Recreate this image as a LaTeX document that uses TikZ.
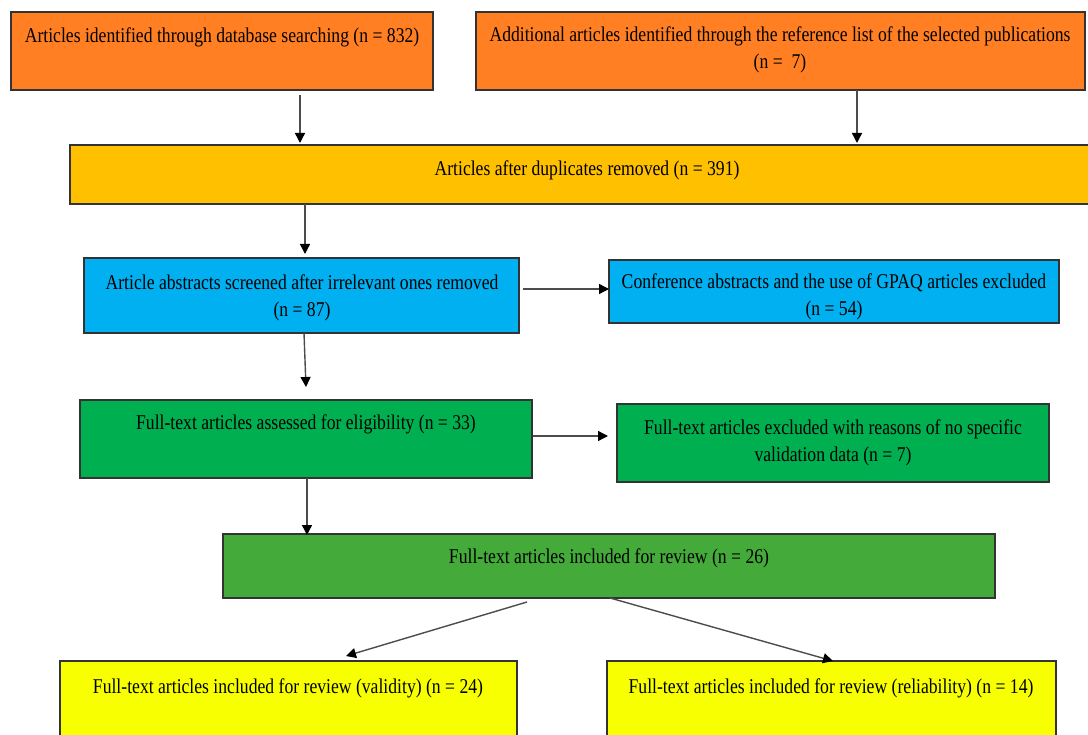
\documentclass[tikz,border=0pt]{standalone}
\usepackage{fontspec}
\setmainfont{Liberation Serif}[FakeStretch=0.84]
\usetikzlibrary{arrows.meta,calc}
\definecolor{corange}{HTML}{FF7F22}
\definecolor{cgold}{HTML}{FFC000}
\definecolor{cblue}{HTML}{00B0F0}
\definecolor{cgreen}{HTML}{00B050}
\definecolor{cgreenb}{HTML}{44AB3A}
\definecolor{cyellow}{HTML}{F7FF00}
\definecolor{cline}{HTML}{333333}
\tikzset{
  box/.style={draw=cline, line width=1.3pt, anchor=north west, inner sep=0pt, outer sep=0pt},
  txt/.style={font=\fontsize{21}{27}\selectfont, align=center, inner sep=0pt, text=black},
  arr/.style={draw=black!70, line width=1.4pt, -{Triangle[width=10pt,length=10pt,fill=black,color=black]}}
}
\begin{document}
\begin{tikzpicture}[x=1pt,y=-1pt]
\useasboundingbox (0,0) rectangle (1088,735);
% boxes
\node[box, fill=corange, minimum width=422pt, minimum height=78pt] (b1) at (11,12) {};
\node[box, fill=corange, minimum width=609pt, minimum height=78pt] (b2) at (476,12) {};
\node[box, fill=cgold, minimum width=1034pt, minimum height=59pt] (b3) at (70,145) {};
\node[box, fill=cblue, minimum width=435pt, minimum height=75pt] (b4) at (84,258) {};
\node[box, fill=cblue, minimum width=450pt, minimum height=63pt] (b5) at (609,260) {};
\node[box, fill=cgreen, minimum width=452pt, minimum height=78pt] (b6) at (80,400) {};
\node[box, fill=cgreen, minimum width=432pt, minimum height=78pt] (b7) at (617,404) {};
\node[box, fill=cgreenb, minimum width=772pt, minimum height=64pt] (b8) at (223,534) {};
\node[box, fill=cyellow, minimum width=457pt, minimum height=100pt] (b9) at (60,661) {};
\node[box, fill=cyellow, minimum width=449pt, minimum height=100pt] (b10) at (607,661) {};
% texts
\node[txt] (t1) at (222,37) {Articles identified through database searching (n = 832)};
\node[txt] (t2) at (780,50) {Additional articles identified through the reference list of the selected publications\\(n =\ \ 7)};
\node[txt] (t3) at (587,170) {Articles after duplicates removed (n = 391)};
\node[txt] (t4) at (302,298) {Article abstracts screened after irrelevant ones removed\\(n = 87)};
\node[txt] (t5) at (834,297) {Conference abstracts and the use of GPAQ articles excluded\\(n = 54)};
\node[txt] (t6) at (306,424) {Full-text articles assessed for eligibility (n = 33)};
\node[txt] (t7) at (833,443) {Full-text articles excluded with reasons of no specific\\validation data (n = 7)};
\node[txt] (t8) at (609,558) {Full-text articles included for review (n = 26)};
\node[txt] (t9) at (288,688) {Full-text articles included for review (validity) (n = 24)};
\node[txt] (t10) at (831,688) {Full-text articles included for review (reliability) (n = 14)};
% connector end points
\coordinate (a1s) at (300,95);  \coordinate (a1e) at (300,143);
\coordinate (a2s) at (857,90);  \coordinate (a2e) at (857,143);
\coordinate (a3s) at (305,204); \coordinate (a3e) at (305,254);
\coordinate (a4s) at (523,289); \coordinate (a4e) at (609,289);
\coordinate (a5s) at (304,333); \coordinate (a5e) at (306,387);
\coordinate (a6s) at (533,436); \coordinate (a6e) at (608,436);
\coordinate (a7s) at (307,478); \coordinate (a7e) at (307,535);
\coordinate (a8s) at (527,602); \coordinate (a8e) at (346,656);
\coordinate (a9s) at (610,598); \coordinate (a9e) at (833,661);
% connectors
\draw[arr] (a1s) -- (a1e);
\draw[arr] (a2s) -- (a2e);
\draw[arr] (a3s) -- (a3e);
\draw[arr] (a4s) -- (a4e);
\draw[arr] (a5s) -- (a5e);
\draw[arr] (a6s) -- (a6e);
\draw[arr] (a7s) -- (a7e);
\draw[arr] (a8s) -- (a8e);
\draw[arr] (a9s) -- (a9e);
\end{tikzpicture}
\end{document}
